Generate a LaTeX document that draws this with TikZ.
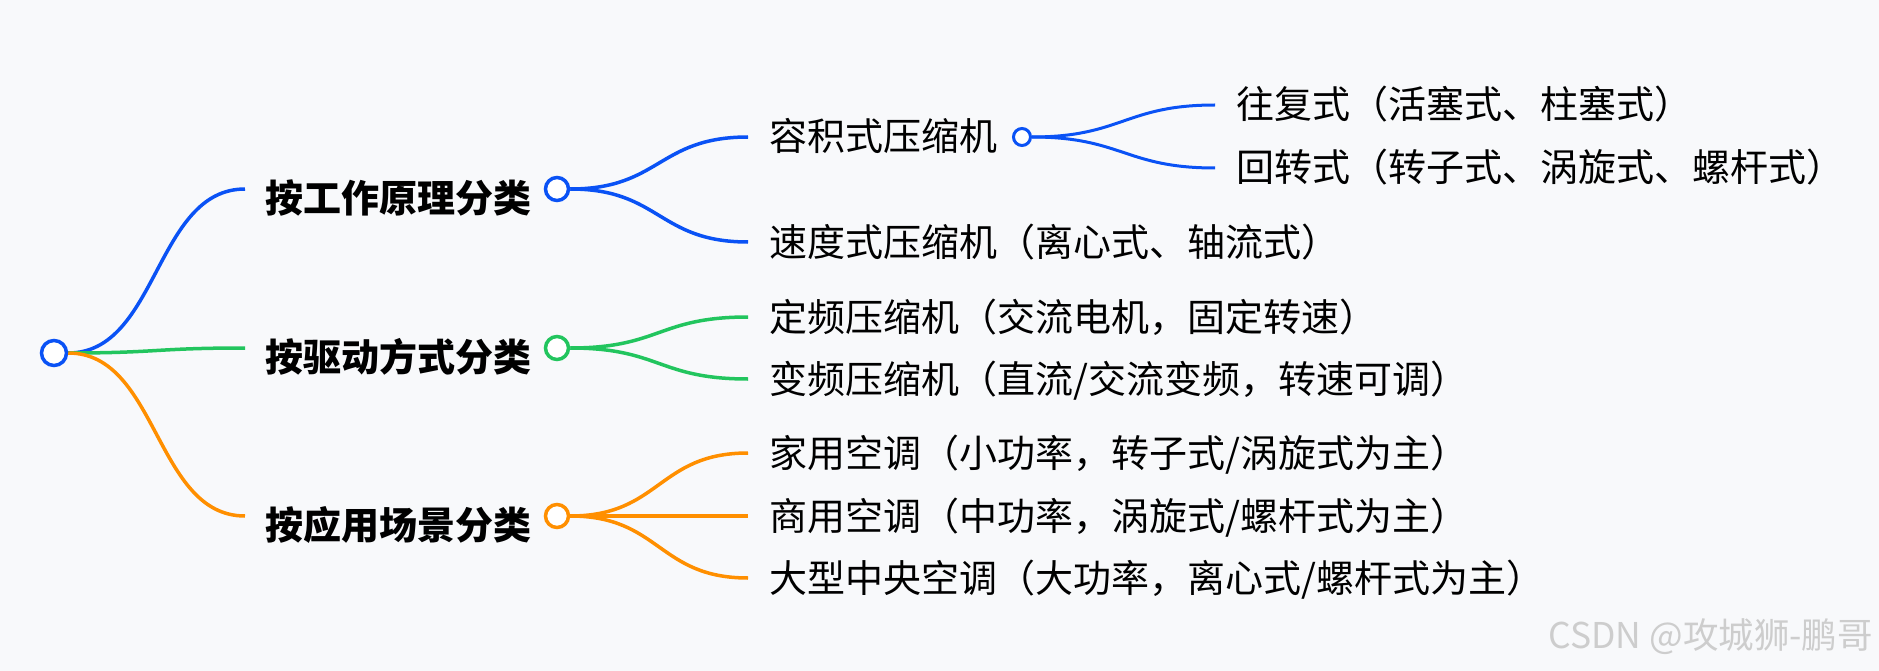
\documentclass[tikz,border=0pt]{standalone}
\usepackage{fontspec}
\setmainfont{Noto Sans CJK SC}
\usepackage{xcolor}
\usetikzlibrary{positioning, math}
\definecolor{myblue}{RGB}{10,82,245}
\definecolor{mygreen}{RGB}{34,197,94}
\definecolor{myorange}{RGB}{255,143,0}
\definecolor{mybg}{RGB}{248,249,251}
\definecolor{mygray}{RGB}{205,205,205}

\begin{document}
\begin{tikzpicture}[x=1pt, y=-1pt,
  ring/.style={circle, draw, fill=white, inner sep=0pt, line width=3.5pt, minimum size=#1},
  link/.style={line width=3.5pt, out=0, in=180, distance=90pt},
  boldlabel/.style={font=\fontsize{38}{40}\selectfont\bfseries, inner sep=0pt, text height=33pt, text depth=5pt},
  plainlabel/.style={font=\fontsize{38}{40}\selectfont, inner sep=0pt, text height=33pt, text depth=5pt}]
\tikzmath{
\xa=245; \xb=748; \xc=1215;
}
\fill[mybg] (0,0) rectangle (1879,671);
\useasboundingbox (0,0) rectangle (1879,671);

\node[myblue, ring=25pt] (root) at (54,353) {};

\coordinate (e1) at (\xa,189);
\coordinate (e2) at (\xa,348);
\coordinate (e3) at (\xa,516);
\node[boldlabel, right=20pt of e1, yshift=-9pt] (work) {按工作原理分类};
\node[boldlabel, right=20pt of e2, yshift=-9pt] (drive) {按驱动方式分类};
\node[boldlabel, right=20pt of e3, yshift=-9pt] (use) {按应用场景分类};
\node[myblue, ring=23pt] (c1) at (557,189) {};
\node[mygreen, ring=23pt] (c2) at (557,348) {};
\node[myorange, ring=23pt] (c3) at (557,516) {};

\draw[link, myblue] (root.east) to (e1);
\draw[link, mygreen] (root.east) to (e2);
\draw[link, myorange] (root.east) to (e3);

\coordinate (b1) at (\xb,137);
\coordinate (b2) at (\xb,242);
\coordinate (g1) at (\xb,317);
\coordinate (g2) at (\xb,379);
\coordinate (o1) at (\xb,453);
\coordinate (o2) at (\xb,516);
\coordinate (o3) at (\xb,578);
\node[plainlabel, right=21pt of b1] (vol) {容积式压缩机};
\node[plainlabel, right=21pt of b2] (speed) {速度式压缩机（离心式、轴流式）};
\node[plainlabel, right=21pt of g1] (fixed) {定频压缩机（交流电机，固定转速）};
\node[plainlabel, right=21pt of g2] (inv) {变频压缩机（直流/交流变频，转速可调）};
\node[plainlabel, right=21pt of o1] (home) {家用空调（小功率，转子式/涡旋式为主）};
\node[plainlabel, right=21pt of o2] (shop) {商用空调（中功率，涡旋式/螺杆式为主）};
\node[plainlabel, right=21pt of o3] (big) {大型中央空调（大功率，离心式/螺杆式为主）};

\draw[link, myblue] (c1.east) to (b1);
\draw[link, myblue] (c1.east) to (b2);
\draw[link, mygreen] (c2.east) to (g1);
\draw[link, mygreen] (c2.east) to (g2);
\draw[link, myorange] (c3.east) to (o1);
\draw[link, myorange] (c3.east) to (o2);
\draw[link, myorange] (c3.east) to (o3);

\node[myblue, ring=17pt, line width=3pt] (c11) at (1022,137) {};
\coordinate (r1) at (\xc,105);
\coordinate (r2) at (\xc,168);
\node[plainlabel, right=21pt of r1] (recip) {往复式（活塞式、柱塞式）};
\node[plainlabel, right=21pt of r2] (rot) {回转式（转子式、涡旋式、螺杆式）};
\draw[link, line width=3pt, myblue] (c11.east) to (r1);
\draw[link, line width=3pt, myblue] (c11.east) to (r2);

\node[font=\fontsize{35.5}{37}\selectfont, text=mygray, anchor=east, inner sep=0pt] (mark) at (1873,637) {CSDN @攻城狮-鹏哥};
\end{tikzpicture}
\end{document}
